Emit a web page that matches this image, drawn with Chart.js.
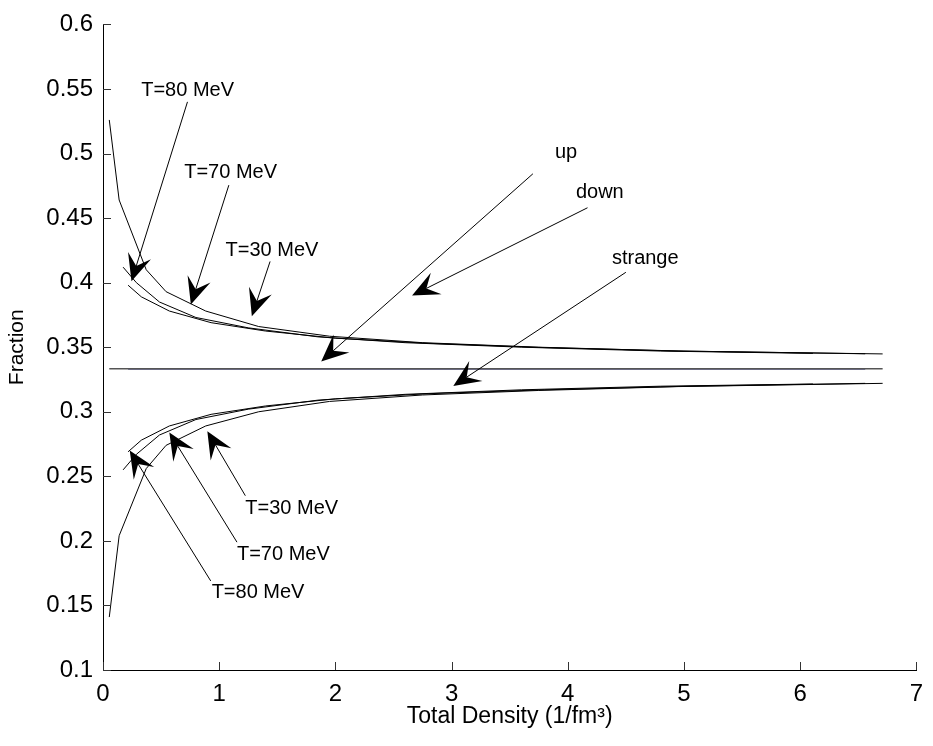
<!DOCTYPE html>
<html>
<head>
<meta charset="utf-8">
<script src="https://cdn.jsdelivr.net/npm/chart.js@4/dist/chart.umd.min.js"></script>
<style>
  body { margin: 0; background: #fff; }
  #wrap { width: 933px; height: 746px; }
</style>
</head>
<body>
<div id="wrap"><canvas id="graph" width="933" height="746"></canvas></div>
<script>
// densities (1/fm^3) for each temperature run
const xA = [0.054, 0.139, 0.372, 0.543, 0.884, 1.34, 1.95, 2.75, 3.75, 4.95, 6.71]   // T=80
const xB = [0.173, 0.287, 0.486, 0.80, 1.25, 1.85, 2.6, 3.6, 4.8, 6.11]              // T=70
const xC = [0.216, 0.33, 0.571, 0.93, 1.4, 2.0, 2.8, 3.8, 5.0, 6.56]                 // T=30

// down quark fraction
const downA = [0.526, 0.464, 0.410, 0.393, 0.378, 0.366, 0.3585, 0.3535, 0.3500, 0.3470, 0.3448]
const downB = [0.412, 0.400, 0.385, 0.373, 0.365, 0.358, 0.3535, 0.3500, 0.3470, 0.3452]
const downC = [0.398, 0.389, 0.378, 0.369, 0.3625, 0.357, 0.3530, 0.3497, 0.3470, 0.3449]

// strange quark fraction
const strangeA = [0.141, 0.204, 0.256, 0.274, 0.289, 0.300, 0.308, 0.313, 0.3165, 0.3195, 0.3220]
const strangeB = [0.255, 0.267, 0.282, 0.294, 0.302, 0.309, 0.3135, 0.317, 0.3198, 0.3215]
const strangeC = [0.269, 0.278, 0.289, 0.298, 0.3045, 0.310, 0.314, 0.317, 0.3197, 0.3220]

// up quark fraction (flat)
const upAx = [0.054, 6.71]
const upAy = [0.3333, 0.3333]
const upCx = [0.216, 6.56]
const upCy = [0.3333, 0.3333]

const xTicks = [0, 1, 2, 3, 4, 5, 6, 7]
const yTicks = [0.1, 0.15, 0.2, 0.25, 0.3, 0.35, 0.4, 0.45, 0.5, 0.55, 0.6]

// text labels and arrows (data coords)
const notes = [
    { text: "T=80 MeV", x: 0.329, y: 0.549 },
    { text: "T=70 MeV", x: 0.699, y: 0.485 },
    { text: "T=30 MeV", x: 1.055, y: 0.425 },
    { text: "up", x: 3.89, y: 0.501 },
    { text: "down", x: 4.07, y: 0.470 },
    { text: "strange", x: 4.38, y: 0.419 },
    { text: "T=30 MeV", x: 1.225, y: 0.2253 },
    { text: "T=70 MeV", x: 1.153, y: 0.1895 },
    { text: "T=80 MeV", x: 0.935, y: 0.160 }
]
const arrows = [
    [0.727, 0.540, 0.245, 0.401],
    [1.083, 0.4755, 0.756, 0.383],
    [1.438, 0.4164, 1.281, 0.374],
    [3.70, 0.4843, 1.878, 0.339],
    [4.17, 0.458, 2.66, 0.390],
    [4.50, 0.408, 3.015, 0.320],
    [1.225, 0.235, 0.898, 0.285],
    [1.153, 0.199, 0.571, 0.284],
    [0.927, 0.169, 0.230, 0.270]
]

const FONT = "'Liberation Sans', Arial, Helvetica, sans-serif"

const pts = (xs, ys) => xs.map((v, i) => ({ x: v, y: ys[i] }))

const serie = (xs, ys, color, w) => ({
    data: pts(xs, ys),
    showLine: true,
    borderColor: color,
    borderWidth: w || 1,
    pointRadius: 0,
    fill: false,
    tension: 0
})

let donnee = [
    serie(xA, downA, "#000"),
    serie(xB, downB, "#000"),
    serie(xC, downC, "#000"),
    serie(xA, strangeA, "#000"),
    serie(xB, strangeB, "#000"),
    serie(xC, strangeC, "#000"),
    serie(upAx, upAy, "#555", 1.5),
    serie(upCx, upCy, "#0a0a66", 1.5)
]

const drawArrow = (ctx, x1, y1, x2, y2) => {
    let a = Math.atan2(y2 - y1, x2 - x1)
    let c = Math.cos(a), s = Math.sin(a)
    let L = 27, W = 12, N = 16
    let bx = x2 - L * c, by = y2 - L * s
    let nx = x2 - N * c, ny = y2 - N * s
    ctx.beginPath()
    ctx.moveTo(x1, y1)
    ctx.lineTo(nx, ny)
    ctx.stroke()
    ctx.beginPath()
    ctx.moveTo(x2, y2)
    ctx.lineTo(bx - W * s, by + W * c)
    ctx.lineTo(nx, ny)
    ctx.lineTo(bx + W * s, by - W * c)
    ctx.closePath()
    ctx.fill()
}

const extras = {
    id: "extras",
    afterDraw(chart) {
        let ctx = chart.ctx
        let sx = chart.scales.x, sy = chart.scales.y
        let area = chart.chartArea
        ctx.save()
        // inward ticks
        ctx.strokeStyle = "#333"
        ctx.lineWidth = 1
        xTicks.forEach(t => {
            let p = Math.round(sx.getPixelForValue(t)) + 0.5
            ctx.beginPath()
            ctx.moveTo(p, area.bottom)
            ctx.lineTo(p, area.bottom - 8)
            ctx.stroke()
        })
        yTicks.forEach(t => {
            let p = Math.round(sy.getPixelForValue(t)) + 0.5
            ctx.beginPath()
            ctx.moveTo(area.left, p)
            ctx.lineTo(area.left + 8, p)
            ctx.stroke()
        })
        // arrows
        ctx.strokeStyle = "#000"
        ctx.fillStyle = "#000"
        arrows.forEach(a => {
            drawArrow(ctx, sx.getPixelForValue(a[0]), sy.getPixelForValue(a[1]),
                sx.getPixelForValue(a[2]), sy.getPixelForValue(a[3]))
        })
        // labels
        ctx.font = "20px " + FONT
        ctx.textAlign = "left"
        ctx.textBaseline = "middle"
        notes.forEach(n => {
            ctx.fillText(n.text, sx.getPixelForValue(n.x), sy.getPixelForValue(n.y))
        })
        ctx.restore()
    }
}

const config = {
    type: "scatter",
    data: { datasets: donnee },
    options: {
        responsive: false,
        animation: false,
        layout: { padding: { top: 22, right: 9, left: 0, bottom: 0 } },
        plugins: { legend: { display: false }, tooltip: { enabled: false } },
        scales: {
            x: {
                type: "linear",
                min: 0,
                max: 7,
                afterFit: s => { s.height = 76 },
                afterBuildTicks: s => { s.ticks = xTicks.map(v => ({ value: v })) },
                grid: { display: false, drawTicks: false },
                border: { display: true, color: "#000", width: 1 },
                ticks: { color: "#000", padding: 10, font: { family: FONT, size: 24 }, maxRotation: 0 },
                title: {
                    display: true,
                    text: "Total Density (1/fm³)",
                    color: "#000",
                    font: { family: FONT, size: 23 },
                    padding: { top: 0, bottom: 16 }
                }
            },
            y: {
                type: "linear",
                min: 0.1,
                max: 0.6,
                afterFit: s => { s.width = 103 },
                afterBuildTicks: s => { s.ticks = yTicks.map(v => ({ value: v })) },
                grid: { display: false, drawTicks: false },
                border: { display: true, color: "#000", width: 1 },
                ticks: { color: "#000", padding: 10, font: { family: FONT, size: 24 }, callback: v => String(+v.toFixed(2)) },
                title: {
                    display: true,
                    text: "Fraction",
                    color: "#000",
                    font: { family: FONT, size: 21 },
                    padding: { top: 5, bottom: 0 }
                }
            }
        }
    },
    plugins: [extras]
}

const graph = document.getElementById("graph").getContext("2d")
const chartFraction = new Chart(graph, config)
</script>
</body>
</html>
